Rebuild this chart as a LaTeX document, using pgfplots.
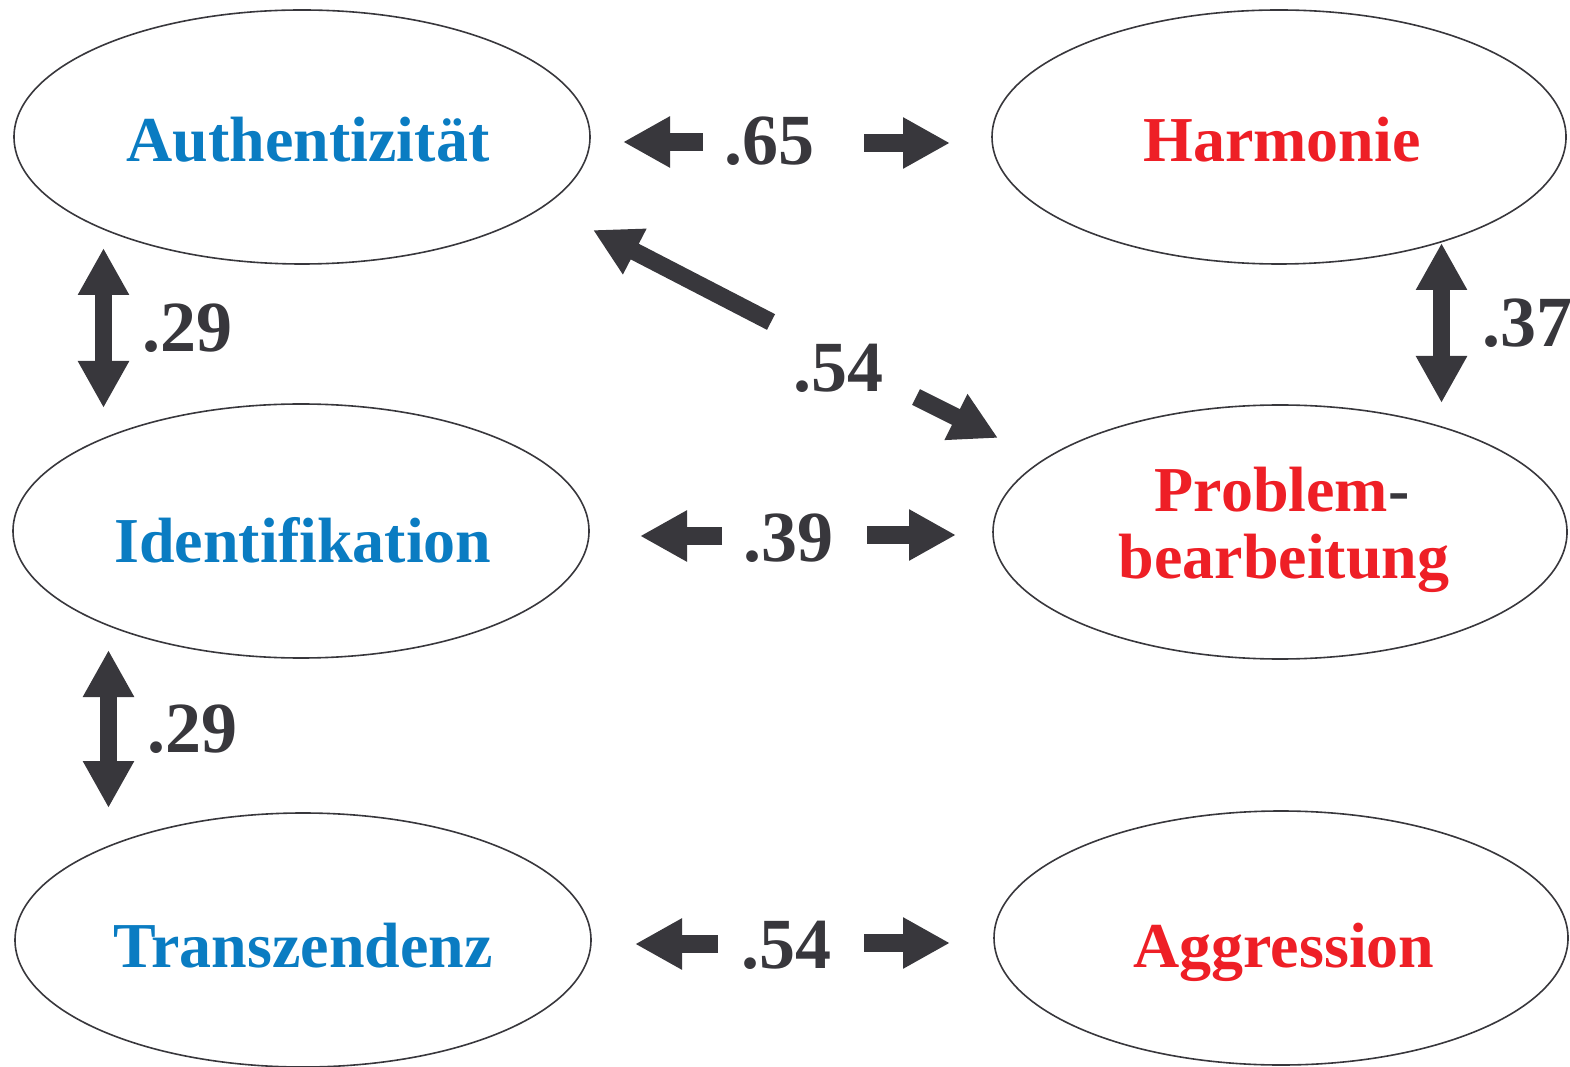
\documentclass[border=0pt]{standalone}
\usepackage{pgfplots}
\pgfplotsset{compat=1.18}
\usepackage{fontspec}
\setmainfont{Liberation Serif}
\usetikzlibrary{arrows.meta}
\definecolor{cblue}{HTML}{0A7CC2}
\definecolor{cred}{HTML}{EE1F26}
\definecolor{cgray}{HTML}{38373C}
\tikzset{
  arr/.style={draw=cgray, line width=4.4pt, -{Triangle[length=11.75pt,width=12pt]}, cgray},
  lab/.style={font=\bfseries\fontsize{16}{19}\selectfont, inner sep=0pt, anchor=base},
  num/.style={font=\bfseries\fontsize{18}{21}\selectfont, inner sep=0pt, anchor=base west, text=cgray},
  ell/.style={draw=cgray, line width=0.4pt}
}
\begin{document}
\begin{tikzpicture}
\begin{axis}[name=ax, scale only axis, width=392.5pt, height=266.75pt,
  xmin=0, xmax=1570, ymin=0, ymax=1067, y dir=reverse, hide axis, clip=false]
% ellipses
\draw[ell] (axis cs:302,137) ellipse [x radius=288, y radius=127];
\draw[ell] (axis cs:1279,137) ellipse [x radius=287, y radius=127];
\draw[ell] (axis cs:301,531) ellipse [x radius=288, y radius=127];
\draw[ell] (axis cs:1280,532) ellipse [x radius=287, y radius=127];
\draw[ell] (axis cs:303,940) ellipse [x radius=288, y radius=127];
\draw[ell] (axis cs:1281,938) ellipse [x radius=287, y radius=127];
% horizontal arrows
\addplot[arr] coordinates {(703,142) (623,142)};
\addplot[arr] coordinates {(864,143) (950,143)};
\addplot[arr] coordinates {(722,536) (640,536)};
\addplot[arr] coordinates {(867,535) (956,535)};
\addplot[arr] coordinates {(718,944) (635,944)};
\addplot[arr] coordinates {(864,943) (950,943)};
% vertical arrows
\addplot[arr] coordinates {(103.5,328) (103.5,248)};
\addplot[arr] coordinates {(103.5,328) (103.5,408)};
\addplot[arr] coordinates {(108.5,729) (108.5,650)};
\addplot[arr] coordinates {(108.5,729) (108.5,808)};
\addplot[arr] coordinates {(1441.5,323) (1441.5,243)};
\addplot[arr] coordinates {(1441.5,323) (1441.5,403)};
% diagonal
\addplot[arr] coordinates {(771,322) (593,230)};
\addplot[arr] coordinates {(916,397) (998,438)};
% labels
\node[lab, text=cblue] at (axis cs:308,162) {Authentizität};
\node[lab, text=cred] at (axis cs:1282,162) {Harmonie};
\node[lab, text=cblue] at (axis cs:303,562) {Identifikation};
\node[lab, text=cred] at (axis cs:1282,512) {Problem\textcolor{cgray}{-}};
\node[lab, text=cred] at (axis cs:1284,578) {bearbeitung};
\node[lab, text=cblue] at (axis cs:303,967) {Transzendenz};
\node[lab, text=cred] at (axis cs:1284,967) {Aggression};
% numbers
\node[num] at (axis cs:724,165) {.65};
\node[num] at (axis cs:142,352) {.29};
\node[num] at (axis cs:147,752) {.29};
\node[num] at (axis cs:1482,347) {.37};
\node[num] at (axis cs:793,392) {.54};
\node[num] at (axis cs:743,561) {.39};
\node[num] at (axis cs:741,968) {.54};
\end{axis}
\pgfresetboundingbox
\useasboundingbox (ax.south west) rectangle (ax.north east);
\end{tikzpicture}
\end{document}
